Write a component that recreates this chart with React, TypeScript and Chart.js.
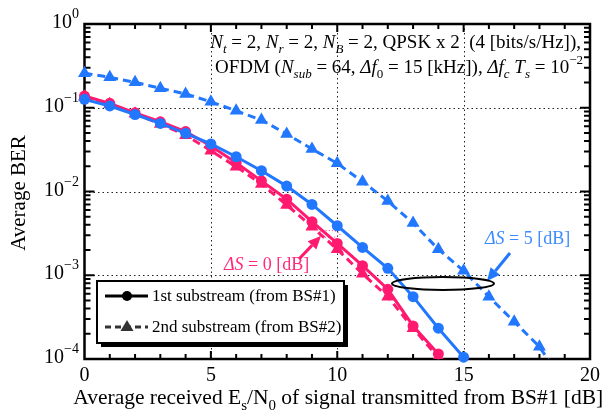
import React, { useEffect, useRef } from 'react';
import { Chart, registerables } from 'chart.js';
Chart.register(...registerables);

// Average received Es/N0 [dB]
const snr = [0, 1, 2, 3, 4, 5, 6, 7, 8, 9, 10, 11, 12, 13, 14, 15, 16, 17, 18, 19];
// ΔS = 5 dB
const ds5First = [0.126, 0.105, 0.083, 0.065, 0.0495, 0.037, 0.026, 0.0177, 0.0116, 0.007, 0.0039, 0.00215, 0.00121, 0.000555, 0.000233, 0.000105];
const ds5Second = [0.258, 0.231, 0.201, 0.171, 0.146, 0.118, 0.092, 0.0714, 0.0486, 0.0322, 0.0217, 0.0131, 0.0077, 0.0042, 0.00204, 0.00113, 0.000555, 0.000279, 0.00014, 0.00005];
// ΔS = 0 dB
const ds0First = [0.138, 0.113, 0.087, 0.068, 0.052, 0.035, 0.022, 0.0134, 0.0081, 0.00436, 0.0024, 0.0013, 0.00068, 0.000248, 0.000115];
const ds0Second = [0.135, 0.11, 0.085, 0.064, 0.047, 0.0307, 0.0198, 0.0123, 0.0069, 0.0038, 0.00204, 0.00104, 0.000555, 0.000233, 0.000104];

const xTicks = [0, 5, 10, 15, 20];
const yExponents = [0, -1, -2, -3, -4];
const legendLabels = ['1st substream (from BS#1)', '2nd substream (from BS#2)'];
const xTitle = ['Average received E', 's', '/N', '0', ' of signal transmitted from BS#1 [dB]'];
const yTitle = 'Average BER';

const BLUE = '#2277ff';
const PINK = '#ff1a70';
const SERIF = '"Liberation Serif", "Times New Roman", serif';

type Part = { t: string; it?: boolean; sub?: boolean; sup?: boolean };

function partFont(p: Part, size: number) {
  const s = p.sub || p.sup ? Math.round(size * 0.7) : size;
  return `${p.it ? 'italic ' : ''}${s}px ${SERIF}`;
}

function drawRich(ctx: CanvasRenderingContext2D, parts: Part[], x: number, y: number, size: number, align: 'left' | 'right' | 'center', color: string) {
  ctx.save();
  ctx.fillStyle = color;
  ctx.textBaseline = 'alphabetic';
  ctx.textAlign = 'left';
  const widths = parts.map((p) => {
    ctx.font = partFont(p, size);
    return ctx.measureText(p.t).width;
  });
  const total = widths.reduce((a, b) => a + b, 0);
  let cx = align === 'left' ? x : align === 'right' ? x - total : x - total / 2;
  parts.forEach((p, i) => {
    ctx.font = partFont(p, size);
    let dy = 0;
    if (p.sub) dy = size * 0.28;
    if (p.sup) dy = -size * 0.45;
    ctx.fillText(p.t, cx, y + dy);
    cx += widths[i];
  });
  ctx.restore();
}

function arrow(ctx: CanvasRenderingContext2D, x1: number, y1: number, x2: number, y2: number, color: string) {
  const ang = Math.atan2(y2 - y1, x2 - x1);
  const hl = 13, hw = 6;
  const bx = x2 - hl * Math.cos(ang), by = y2 - hl * Math.sin(ang);
  ctx.save();
  ctx.strokeStyle = color;
  ctx.fillStyle = color;
  ctx.lineWidth = 3;
  ctx.beginPath();
  ctx.moveTo(x1, y1);
  ctx.lineTo(bx, by);
  ctx.stroke();
  ctx.beginPath();
  ctx.moveTo(x2, y2);
  ctx.lineTo(bx + hw * Math.sin(ang), by - hw * Math.cos(ang));
  ctx.lineTo(bx - hw * Math.sin(ang), by + hw * Math.cos(ang));
  ctx.closePath();
  ctx.fill();
  ctx.restore();
}

const framePlugin = {
  id: 'frame',
  beforeDatasetsDraw(chart: any) {
    const ctx: CanvasRenderingContext2D = chart.ctx;
    const { left, right, top, bottom } = chart.chartArea;
    const xs = chart.scales.x;
    const ys = chart.scales.y;
    ctx.save();
    // dotted grid
    ctx.strokeStyle = '#222';
    ctx.lineWidth = 1;
    ctx.setLineDash([1.5, 3]);
    [5, 10, 15].forEach((v) => {
      const px = Math.round(xs.getPixelForValue(v)) + 0.5;
      ctx.beginPath();
      ctx.moveTo(px, top);
      ctx.lineTo(px, bottom);
      ctx.stroke();
    });
    [1e-1, 1e-2, 1e-3].forEach((v) => {
      const py = Math.round(ys.getPixelForValue(v)) + 0.5;
      ctx.beginPath();
      ctx.moveTo(left, py);
      ctx.lineTo(right, py);
      ctx.stroke();
    });
    ctx.setLineDash([]);
    // ticks
    ctx.strokeStyle = '#000';
    ctx.lineWidth = 2;
    for (let v = 1; v < 20; v++) {
      const px = xs.getPixelForValue(v);
      const len = v % 5 === 0 ? 8 : 5;
      ctx.beginPath();
      ctx.moveTo(px, bottom);
      ctx.lineTo(px, bottom - len);
      ctx.moveTo(px, top);
      ctx.lineTo(px, top + len);
      ctx.stroke();
    }
    for (let e = -4; e < 0; e++) {
      for (let m = 1; m <= 9; m++) {
        if (e === -4 && m === 1) continue;
        const py = ys.getPixelForValue(m * Math.pow(10, e));
        const len = m === 1 ? 10 : 6;
        ctx.beginPath();
        ctx.moveTo(left, py);
        ctx.lineTo(left + len, py);
        ctx.moveTo(right, py);
        ctx.lineTo(right - len, py);
        ctx.stroke();
      }
    }
    // frame
    ctx.lineWidth = 2.5;
    ctx.strokeRect(left, top, right - left, bottom - top);
    ctx.restore();

    // tick labels
    ctx.save();
    ctx.fillStyle = '#000';
    ctx.font = `20px ${SERIF}`;
    ctx.textAlign = 'center';
    ctx.textBaseline = 'alphabetic';
    xTicks.forEach((v) => {
      ctx.fillText(String(v), xs.getPixelForValue(v), 381);
    });
    yExponents.forEach((e) => {
      const py = ys.getPixelForValue(Math.pow(10, e));
      const sup = e === 0 ? '0' : '\u2212' + String(-e);
      ctx.font = `14px ${SERIF}`;
      const ws = ctx.measureText(sup).width;
      ctx.font = `20px ${SERIF}`;
      const wb = ctx.measureText('10').width;
      ctx.textAlign = 'left';
      ctx.fillText('10', 79 - ws - wb, py + 4);
      ctx.font = `14px ${SERIF}`;
      ctx.fillText(sup, 79 - ws, py - 6);
    });
    // axis titles
    drawRich(ctx, xTitle.map((t, i) => ({ t, sub: i === 1 || i === 3 })), (left + right) / 2 + 1, 404, 21.5, 'center', '#000');
    ctx.save();
    ctx.translate(25, 193);
    ctx.rotate(-Math.PI / 2);
    ctx.font = `21px ${SERIF}`;
    ctx.textAlign = 'center';
    ctx.fillStyle = '#000';
    ctx.fillText(yTitle, 0, 0);
    ctx.restore();
    ctx.restore();
  },
  afterDatasetsDraw(chart: any) {
    const ctx: CanvasRenderingContext2D = chart.ctx;
    // parameter text
    const line1: Part[] = [
      { t: 'N', it: true }, { t: 't', it: true, sub: true }, { t: ' = 2, ' },
      { t: 'N', it: true }, { t: 'r', it: true, sub: true }, { t: ' = 2, ' },
      { t: 'N', it: true }, { t: 'B', it: true, sub: true }, { t: ' = 2, QPSK x 2  (4 [bits/s/Hz]),' },
    ];
    const line2: Part[] = [
      { t: 'OFDM (' }, { t: 'N', it: true }, { t: 'sub', it: true, sub: true }, { t: ' = 64, ' },
      { t: '\u0394f', it: true }, { t: '0', sub: true }, { t: ' = 15 [kHz]), ' },
      { t: '\u0394f', it: true }, { t: 'c', it: true, sub: true }, { t: ' ' },
      { t: 'T', it: true }, { t: 's', it: true, sub: true }, { t: ' = 10' }, { t: '\u22122', sup: true },
    ];
    drawRich(ctx, line1, 581, 48, 19, 'right', '#000');
    drawRich(ctx, line2, 583, 73, 19, 'right', '#000');

    // ΔS labels and arrows
    drawRich(ctx, [{ t: '\u0394S', it: true }, { t: ' = 5 [dB]' }], 485, 244, 18, 'left', '#3d8cff');
    arrow(ctx, 510, 253, 487, 281, BLUE);
    drawRich(ctx, [{ t: '\u0394S', it: true }, { t: ' = 0 [dB]' }], 224, 270, 18, 'left', '#ff2a7a');
    arrow(ctx, 299, 259, 321, 236, PINK);
    ctx.save();
    ctx.strokeStyle = PINK;
    ctx.lineWidth = 1;
    ctx.setLineDash([1, 2]);
    ctx.beginPath();
    ctx.ellipse(329, 234, 11, 3.5, 0, 0, Math.PI * 2);
    ctx.stroke();
    ctx.restore();

    // ellipse grouping ΔS = 5 curves
    ctx.save();
    ctx.strokeStyle = '#000';
    ctx.lineWidth = 2;
    ctx.beginPath();
    ctx.ellipse(443, 283.5, 51, 6.5, 0, 0, Math.PI * 2);
    ctx.stroke();
    ctx.restore();

    // legend
    const bx = 97, by = 281, bw = 247, bh = 62;
    ctx.save();
    ctx.fillStyle = '#000';
    ctx.fillRect(bx + 4, by + 4, bw, bh);
    ctx.fillStyle = '#fff';
    ctx.fillRect(bx, by, bw, bh);
    ctx.strokeStyle = '#000';
    ctx.lineWidth = 2;
    ctx.strokeRect(bx, by, bw, bh);
    // entry 1
    ctx.lineWidth = 3;
    ctx.beginPath();
    ctx.moveTo(105, 296);
    ctx.lineTo(148, 296);
    ctx.stroke();
    ctx.fillStyle = '#000';
    ctx.beginPath();
    ctx.arc(127, 296, 5, 0, Math.PI * 2);
    ctx.fill();
    // entry 2
    ctx.strokeStyle = '#333';
    ctx.setLineDash([6, 4]);
    ctx.beginPath();
    ctx.moveTo(105, 327);
    ctx.lineTo(148, 327);
    ctx.stroke();
    ctx.setLineDash([]);
    ctx.fillStyle = '#333';
    ctx.beginPath();
    ctx.moveTo(127, 320);
    ctx.lineTo(133.5, 331);
    ctx.lineTo(120.5, 331);
    ctx.closePath();
    ctx.fill();
    ctx.fillStyle = '#000';
    ctx.font = `17px ${SERIF}`;
    ctx.textAlign = 'left';
    ctx.fillText(legendLabels[0], 152, 301);
    ctx.fillText(legendLabels[1], 152, 332);
    ctx.restore();
  },
};

function pts(arr: number[]) {
  return arr.map((v, i) => ({ x: snr[i], y: v }));
}

export default function App() {
  const ref = useRef<HTMLCanvasElement>(null);
  useEffect(() => {
    if (!ref.current) return;
    const chart = new Chart(ref.current, {
      type: 'line',
      data: {
        datasets: [
          {
            data: pts(ds5First), borderColor: BLUE, backgroundColor: BLUE, borderWidth: 3,
            pointStyle: 'circle', pointRadius: 5.5, pointBorderWidth: 0, order: 0,
            clip: { left: 8, top: 8, right: 8, bottom: 6 } as any,
          },
          {
            data: pts(ds5Second), borderColor: BLUE, backgroundColor: BLUE, borderWidth: 3, borderDash: [8, 5],
            pointStyle: 'triangle', pointRadius: 7.5, pointBorderWidth: 0, order: 1,
            clip: { left: 8, top: 8, right: 8, bottom: 0 } as any,
          },
          {
            data: pts(ds0First), borderColor: PINK, backgroundColor: PINK, borderWidth: 3,
            pointStyle: 'circle', pointRadius: 5.5, pointBorderWidth: 0, order: 2,
            clip: { left: 8, top: 8, right: 8, bottom: 6 } as any,
          },
          {
            data: pts(ds0Second), borderColor: PINK, backgroundColor: PINK, borderWidth: 3, borderDash: [8, 5],
            pointStyle: 'triangle', pointRadius: 7.5, pointBorderWidth: 0, order: 3,
            clip: { left: 8, top: 8, right: 8, bottom: 0 } as any,
          },
        ],
      },
      options: {
        animation: false,
        responsive: false,
        maintainAspectRatio: false,
        layout: { padding: { left: 84.5, top: 24, right: 20, bottom: 51 } },
        scales: {
          x: { type: 'linear', min: 0, max: 20, display: false },
          y: { type: 'logarithmic', min: 1e-4, max: 1, display: false },
        },
        plugins: { legend: { display: false }, tooltip: { enabled: false } },
        elements: { line: { tension: 0 } },
      },
      plugins: [framePlugin],
    });
    return () => chart.destroy();
  }, []);
  return (
    <div style={{ position: 'fixed', left: 0, top: 0, width: 610, height: 410, background: '#fff' }}>
      <canvas ref={ref} width={610} height={410} style={{ width: 610, height: 410, display: 'block' }} />
    </div>
  );
}
